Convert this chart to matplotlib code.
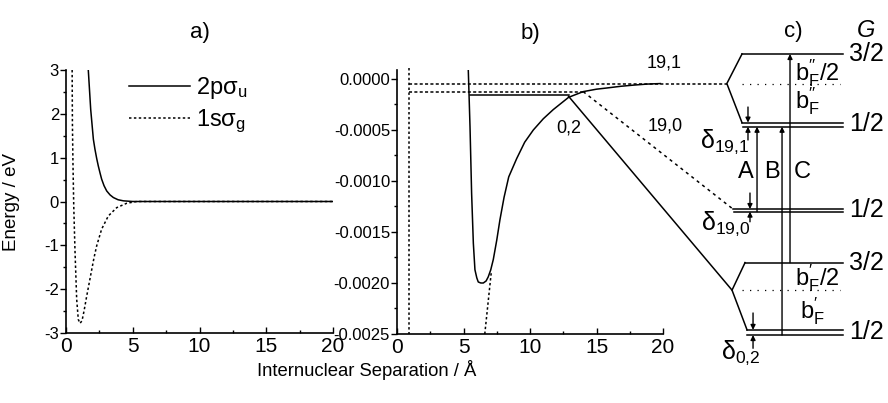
import matplotlib
matplotlib.use("Agg")
import matplotlib.pyplot as plt
from matplotlib.ticker import MultipleLocator, FormatStrFormatter

plt.rcParams['font.family'] = ['Liberation Sans', 'DejaVu Sans']
plt.rcParams['mathtext.fontset'] = 'custom'
plt.rcParams['mathtext.rm'] = 'Liberation Sans'
plt.rcParams['mathtext.it'] = 'Liberation Sans:italic'
plt.rcParams['axes.unicode_minus'] = False

# ---- panel a: H2+ potential curves (eV vs Angstrom)
r_2p = [1.67, 1.85, 2.05, 2.17, 2.3, 2.42, 2.55, 2.67, 2.85, 3.05, 3.3, 3.55, 3.9, 4.3, 5.0, 20.0]
e_2p = [3.0, 2.1, 1.42, 1.19, 0.98, 0.81, 0.65, 0.51, 0.36, 0.24, 0.15, 0.09, 0.04, 0.015, 0.0, 0.0]
r_1s = [0.46, 0.48, 0.52, 0.58, 0.67, 0.8, 0.92, 1.05, 1.2, 1.35, 1.55, 1.75, 1.93, 2.1, 2.3, 2.67,
        3.17, 3.8, 4.55, 5.3, 20.0]
e_1s = [3.0, 1.8, 0.9, -0.1, -1.09, -2.23, -2.69, -2.78, -2.72, -2.5, -2.16, -1.84, -1.55, -1.28,
        -1.01, -0.63, -0.33, -0.14, -0.04, 0.0, 0.0]

# ---- panel b: long range well (eV vs Angstrom)
r_well = [5.36, 5.49, 5.61, 5.74, 5.86, 6.0, 6.11, 6.3, 6.49, 6.7, 6.86, 7.05, 7.24, 7.5, 7.74,
          8.05, 8.4, 9.0, 9.6, 10.25, 11.0, 11.75, 12.9, 14.0, 15.0, 15.8, 16.8, 17.8, 18.8, 19.8]
e_well = [0.000088, -0.00047, -0.00112, -0.00161, -0.00187, -0.00195, -0.00199, -0.0020, -0.0020,
          -0.00198, -0.00194, -0.00187, -0.00177, -0.00158, -0.00138, -0.00116, -0.00096, -0.00078,
          -0.00062, -0.0005, -0.00039, -0.0003, -0.00018, -0.000124, -0.0001, -0.000088, -0.000072,
          -0.00006, -0.00005, -0.000045]
r_1s_tail = [6.6, 7.1]
e_1s_tail = [-0.0025, -0.00188]
r_wall = 0.9
e_191 = -0.000045          # (19,1) asymptote
e_190 = -0.000124          # (19,0) asymptote
e_02 = -0.00016            # (0,2) level
r_02 = [5.5, 12.9]
r_cross_190 = 14.0

# ---- panel c: hyperfine level scheme, drawn in panel b units
x_kink = [24.8, 25.26, 25.19]
x_lvl_start = [25.94, 25.26, 26.17, 26.32]
x_lvl_end = 33.5
y_191 = [0.000245, -0.000428, -0.000468]      # 3/2, 1/2, 1/2 - delta
y_190 = [-0.001275, -0.0013]
y_02 = [-0.0018, -0.00246, -0.00251]
y_centre = [-0.000045, -0.00207]
delta_x = [26.39, 26.54, 26.77]
delta_arrows = [(-0.000275, -0.000428, -0.000598, -0.000468),
                (-0.001118, -0.001275, -0.0014, -0.0013),
                (-0.002294, -0.00246, -0.00264, -0.00251)]
delta_labels = [r'$\mathregular{δ_{19{,}1}}$', r'$\mathregular{δ_{19{,}0}}$', r'$\mathregular{δ_{0{,}2}}$']
delta_pos = [(26.5, -0.00062), (26.6, -0.00142), (27.35, -0.00268)]
trans_x = [27.07, 28.95, 29.55]
trans_y = [(-0.0013, -0.000468), (-0.00251, -0.000468), (-0.0018, 0.000245)]
trans_labels = ['A', 'B', 'C']
trans_label_x = [26.2, 28.2, 30.5]
g_labels = ['3/2', '1/2', '1/2', '3/2', '1/2']
g_y = [0.000245, -0.000445, -0.00128, -0.0018, -0.00248]

fig = plt.figure(figsize=(8.88, 4.03), dpi=100)
ax1 = fig.add_axes([66 / 888, 70 / 403, 267 / 888, 263 / 403])
ax2 = fig.add_axes([397 / 888, 69 / 403, 266 / 888, 264 / 403])

lw = 1.1
dots = (0, (1.6, 1.6))
for ax in (ax1, ax2):
    for s in ('top', 'right'):
        ax.spines[s].set_visible(False)
    ax.spines['left'].set_linewidth(1.2)
    ax.spines['bottom'].set_linewidth(1.2)
    ax.tick_params(axis='y', which='major', direction='out', length=4, width=1, labelsize=12, pad=1)
    ax.tick_params(axis='y', which='minor', direction='out', length=2.5, width=1)
    ax.tick_params(axis='x', which='major', direction='in', length=4, width=1, labelsize=15, pad=3)
    ax.tick_params(axis='x', which='minor', direction='in', length=2.5, width=1)
    ax.set_xlim(0, 20)
    ax.xaxis.set_major_locator(MultipleLocator(5))
    ax.xaxis.set_minor_locator(MultipleLocator(2.5))

# panel a
ax1.plot(r_2p, e_2p, 'k-', lw=lw, label=r'2p$\mathregular{σ_u}$')
ax1.plot(r_1s, e_1s, 'k', ls=dots, lw=lw, label=r'1s$\mathregular{σ_g}$')
ax1.set_ylim(-3, 3)
ax1.yaxis.set_major_locator(MultipleLocator(1))
ax1.yaxis.set_minor_locator(MultipleLocator(0.5))
ax1.legend(loc='upper left', bbox_to_anchor=(0.2, 1.017), frameon=False, fontsize=17,
           handlelength=2.6, handletextpad=0.25, labelspacing=0.3, borderaxespad=0)
ax1.text(10, 3.85, 'a)', fontsize=16, ha='center', va='center', clip_on=False)
fig.text(12 / 888, 1 - 202 / 403, 'Energy / eV', fontsize=13.5, rotation=90,
         ha='center', va='center')

# panel b
ax2.set_ylim(-0.0025, 0.000088)
ax2.yaxis.set_major_locator(MultipleLocator(0.0005))
ax2.yaxis.set_minor_locator(MultipleLocator(0.00025))
ax2.yaxis.set_major_formatter(FormatStrFormatter('%.4f'))
ax2.plot(r_well, e_well, 'k-', lw=lw)
ax2.plot(r_1s_tail, e_1s_tail, 'k', ls=dots, lw=lw, clip_on=False)
ax2.plot([r_wall, r_wall], [0.00011, -0.0025], 'k', ls=dots, lw=lw, clip_on=False)
ax2.plot([r_wall, x_kink[0]], [e_191, e_191], 'k', ls=(0, (2, 1.5)), lw=lw, clip_on=False)
ax2.plot([r_wall, r_cross_190], [e_190, e_190], 'k', ls=(0, (2, 1.5)), lw=lw, clip_on=False)
ax2.plot(r_02, [e_02, e_02], 'k-', lw=lw)
ax2.plot([r_02[1], x_kink[2]], [-0.00017, y_centre[1]], 'k-', lw=lw, clip_on=False)
ax2.plot([r_cross_190, x_kink[1]], [e_190, y_190[0]], 'k', ls=(0, (2, 2.5)), lw=lw, clip_on=False)
ax2.text(10, 0.00045, 'b)', fontsize=16, ha='center', va='center', clip_on=False)
ax2.text(20.1, 0.000157, '19,1', fontsize=13, ha='center', va='center', clip_on=False)
ax2.text(20.15, -0.00046, '19,0', fontsize=13, ha='center', va='center', clip_on=False)
ax2.text(12.9, -0.00048, '0,2', fontsize=13, ha='center', va='center', clip_on=False)

# panel c (level scheme)
kw = dict(color='k', lw=lw, clip_on=False)
# (19,1)
ax2.plot([x_lvl_start[0], x_kink[0], x_lvl_start[0]], [y_191[0], y_centre[0], y_191[1]], **kw)
ax2.plot([x_lvl_start[0], x_lvl_end], [y_191[0], y_191[0]], **kw)
ax2.plot([x_lvl_start[0], x_lvl_end], [y_191[1], y_191[1]], **kw)
ax2.plot([x_lvl_start[0] + 0.1, x_lvl_end], [y_191[2], y_191[2]], **kw)
ax2.plot([x_lvl_start[0], 33.3], [y_centre[0], y_centre[0]], 'k', ls=(0, (1, 5)), lw=0.9,
         clip_on=False)
# (19,0)
ax2.plot([x_lvl_start[1], x_lvl_end], [y_190[0], y_190[0]], **kw)
ax2.plot([x_lvl_start[1] + 0.1, x_lvl_end], [y_190[1], y_190[1]], **kw)
# (0,2)
ax2.plot([x_lvl_start[2], x_kink[2], x_lvl_start[3]], [y_02[0], y_centre[1], y_02[1]], **kw)
ax2.plot([x_lvl_start[2], x_lvl_end], [y_02[0], y_02[0]], **kw)
ax2.plot([x_lvl_start[3], x_lvl_end], [y_02[1], y_02[1]], **kw)
ax2.plot([x_lvl_start[3], x_lvl_end], [y_02[2], y_02[2]], **kw)
ax2.plot([x_lvl_start[0], 33.3], [y_centre[1], y_centre[1]], 'k', ls=(0, (1, 5)), lw=0.9,
         clip_on=False)

arrow_kw = dict(arrowstyle='-|>', lw=1.0, color='k', mutation_scale=7, shrinkA=0, shrinkB=0)
for x, (d0, d1, u0, u1) in zip(delta_x, delta_arrows):
    ax2.annotate('', xy=(x, d1), xytext=(x, d0), arrowprops=arrow_kw, annotation_clip=False)
    ax2.annotate('', xy=(x, u1), xytext=(x, u0), arrowprops=arrow_kw, annotation_clip=False)
for lab, (x, y) in zip(delta_labels, delta_pos):
    ax2.text(x, y, lab, fontsize=18, ha='right', va='center', clip_on=False)

for x, (y0, y1) in zip(trans_x, trans_y):
    ax2.annotate('', xy=(x, y1), xytext=(x, y0), arrowprops=arrow_kw, annotation_clip=False)
for lab, x in zip(trans_labels, trans_label_x):
    ax2.text(x, -0.00091, lab, fontsize=17, ha='center', va='center', clip_on=False)

ax2.text(29.9, 0.00006, r"$\mathregular{b_F^{\prime\prime}/2}$", fontsize=17, ha='left',
         va='center', clip_on=False)
ax2.text(29.9, -0.00022, r"$\mathregular{b_F^{\prime\prime}}$", fontsize=17, ha='left',
         va='center', clip_on=False)
ax2.text(29.9, -0.00195, r"$\mathregular{b_F^{\prime}/2}$", fontsize=17, ha='left',
         va='center', clip_on=False)
ax2.text(30.3, -0.00228, r"$\mathregular{b_F^{\prime}}$", fontsize=17, ha='left',
         va='center', clip_on=False)

for lab, y in zip(g_labels, g_y):
    ax2.text(34.0, y, lab, fontsize=18, ha='left', va='center', clip_on=False)
ax2.text(29.8, 0.00047, 'c)', fontsize=16, ha='center', va='center', clip_on=False)
ax2.text(35.3, 0.00048, 'G', fontsize=17, style='italic', ha='center', va='center', clip_on=False)

fig.text(367 / 888, 1 - 370 / 403, 'Internuclear Separation / Å', fontsize=13.3,
         ha='center', va='center')

fig.savefig('out.png', dpi=100, facecolor='white')
